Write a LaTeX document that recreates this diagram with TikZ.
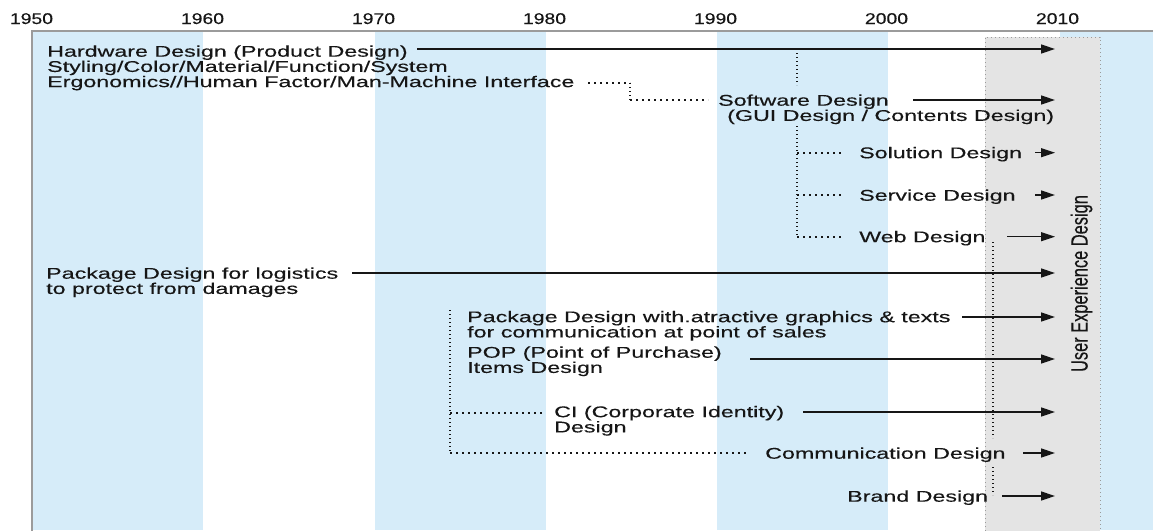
\documentclass[tikz,border=0pt]{standalone}
\usepackage{graphicx}
\usepackage{fontspec}
\setmainfont{Liberation Sans}[FakeBold=0.25]
\usetikzlibrary{arrows.meta}
\definecolor{bandblue}{RGB}{214,236,249}
\definecolor{boxgrey}{RGB}{228,228,228}
\definecolor{ink}{RGB}{22,22,22}
\definecolor{framegrey}{RGB}{155,155,155}
\newcommand{\fst}{\rule{0pt}{11.5pt}}
\newcommand{\sx}[1]{\scalebox{1.5}[1]{#1}}
\newcommand{\sy}[1]{\scalebox{1.25}[1]{#1}}
\begin{document}
\begin{tikzpicture}[x=1pt,y=-1pt,
  lbl/.style={anchor=north west, inner sep=0pt, align=left, text=ink,
              font=\fontsize{15.5}{15.2}\selectfont},
  yearlbl/.style={anchor=base, inner sep=0pt, text=ink,
              font=\fontsize{15.5}{16}\selectfont},
  arr/.style={draw=ink, line width=1.4pt, -{Triangle[length=14pt,width=9pt]}},
  hdot/.style={draw=ink, line width=1.6pt, dash pattern=on 1.7pt off 4.3pt},
  vdot/.style={draw=ink, line width=1.6pt, dash pattern=on 1.4pt off 2.6pt},
  band/.style={fill=bandblue},
]
\useasboundingbox (0,0) rectangle (1153,530);
% bands
\fill[band] (32,31) rectangle (203,530);
\fill[band] (375,31) rectangle (546,530);
\fill[band] (717,31) rectangle (888,530);
\fill[band] (1060,31) rectangle (1153,530);
% frame
\draw[framegrey, line width=1.6pt] (32,531) -- (32,31) -- (1153,31);
% user experience box
\fill[boxgrey] (985,37) rectangle (1100,531);
\draw[framegrey, line width=1pt, dash pattern=on 1pt off 3pt] (985,531) -- (985,37) -- (1100,37) -- (1100,531);
\node[inner sep=0pt, text=ink, rotate=90, font=\fontsize{16.4}{17}\selectfont] (ux) at (1081.5,283.5) {\scalebox{1}[1.43]{User Experience Design}};

% years
\node[yearlbl] (y1950) at (31.5,24) {\sy{1950}};
\node[yearlbl] (y1960) at (202.5,24) {\sy{1960}};
\node[yearlbl] (y1970) at (373.5,24) {\sy{1970}};
\node[yearlbl] (y1980) at (544.5,24) {\sy{1980}};
\node[yearlbl] (y1990) at (715.5,24) {\sy{1990}};
\node[yearlbl] (y2000) at (886.5,24) {\sy{2000}};
\node[yearlbl] (y2010) at (1057.5,24) {\sy{2010}};

% labels
\node[lbl] (hw) at (47,45) {\fst\sx{Hardware Design (Product Design)}\\\sx{Styling/Color/Material/Function/System}\\\sx{Ergonomics//Human Factor/Man-Machine Interface}};
\node[lbl] (sw) at (718,94) {\fst\sx{Software Design}\\\hspace*{9pt}\sx{(GUI Design / Contents Design)}};
\node[lbl] (sol) at (859,146.5) {\fst\sx{Solution Design}};
\node[lbl] (srv) at (859,189) {\fst\sx{Service Design}};
\node[lbl] (web) at (859,230.5) {\fst\sx{Web Design}};
\node[lbl] (pkg) at (46,267) {\fst\sx{Package Design for logistics}\\\sx{to protect from damages}};
\node[lbl] (pkga) at (467,310.5) {\fst\sx{Package Design with.atractive graphics \& texts}\\\sx{for communication at point of sales}};
\node[lbl] (pop) at (467,346) {\fst\sx{POP (Point of Purchase)}\\\sx{Items Design}};
\node[lbl] (ci) at (554,405.5) {\fst\sx{CI (Corporate Identity)}\\\sx{Design}};
\node[lbl] (com) at (765,447) {\fst\sx{Communication Design}};
\node[lbl] (brd) at (847,490) {\fst\sx{Brand Design}};

% arrow end points
\coordinate (hwS) at (417,49);   \coordinate (hwE) at (1055,49);
\coordinate (swS) at (913,100);  \coordinate (swE) at (1055,100);
\coordinate (solS) at (1035,152.7); \coordinate (solE) at (1055,152.7);
\coordinate (srvS) at (1035,195);   \coordinate (srvE) at (1055,195);
\coordinate (webS) at (1007,236.7); \coordinate (webE) at (1055,236.7);
\coordinate (pkgS) at (352,273);    \coordinate (pkgE) at (1055,273);
\coordinate (pkgaS) at (962,317);   \coordinate (pkgaE) at (1055,317);
\coordinate (popS) at (750,359);    \coordinate (popE) at (1055,359);
\coordinate (ciS) at (803,412);     \coordinate (ciE) at (1055,412);
\coordinate (comS) at (1023,453);   \coordinate (comE) at (1055,453);
\coordinate (brdS) at (1002,496);   \coordinate (brdE) at (1055,496);

\draw[arr] (hwS) -- (hwE);
\draw[arr] (swS) -- (swE);
\draw[arr] (solS) -- (solE);
\draw[arr] (srvS) -- (srvE);
\draw[arr] (webS) -- (webE);
\draw[arr] (pkgS) -- (pkgE);
\draw[arr] (pkgaS) -- (pkgaE);
\draw[arr] (popS) -- (popE);
\draw[arr] (ciS) -- (ciE);
\draw[arr] (comS) -- (comE);
\draw[arr] (brdS) -- (brdE);

% dotted connectors: hardware -> software
\coordinate (hwT) at (797,49);
\coordinate (hwB) at (797,85);
\draw[vdot] (hwT) -- (hwB);
\coordinate (erA) at (588,83);
\coordinate (erB) at (630,83);
\coordinate (erC) at (630,100);
\coordinate (erD) at (708,100);
\draw[hdot] (erA) -- (erB);
\draw[vdot] (erB) -- (erC);
\draw[hdot] (erC) -- (erD);
% software -> solution / service / web
\coordinate (swT) at (797,126);
\coordinate (brSol) at (797,152.7); \coordinate (brSolE) at (842,152.7);
\coordinate (brSrv) at (797,195);   \coordinate (brSrvE) at (842,195);
\coordinate (brWeb) at (797,236.7); \coordinate (brWebE) at (842,236.7);
\draw[vdot] (swT) -- (brWeb);
\draw[hdot] (brSol) -- (brSolE);
\draw[hdot] (brSrv) -- (brSrvE);
\draw[hdot] (brWeb) -- (brWebE);
% web -> brand
\coordinate (wbA) at (993,242);
\coordinate (wbB) at (993,438);
\coordinate (wbC) at (993,467);
\coordinate (wbD) at (993,495);
\draw[vdot] (wbA) -- (wbB);
\draw[vdot] (wbC) -- (wbD);
% package -> CI / communication
\coordinate (pkT) at (450,310);
\coordinate (pkCI) at (450,413);   \coordinate (pkCIE) at (543,413);
\coordinate (pkCo) at (450,453);   \coordinate (pkCoE) at (748,453);
\draw[vdot] (pkT) -- (pkCo);
\draw[hdot] (pkCI) -- (pkCIE);
\draw[hdot] (pkCo) -- (pkCoE);
\end{tikzpicture}
\end{document}
